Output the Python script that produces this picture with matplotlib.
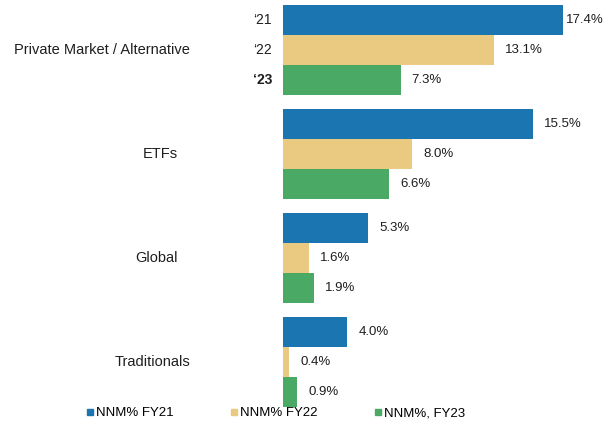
import matplotlib.pyplot as plt
from matplotlib.lines import Line2D

plt.rcParams['font.family'] = ['Liberation Sans', 'DejaVu Sans']

categories = ['Private Market / Alternative', 'ETFs', 'Global', 'Traditionals']
fy21 = [17.4, 15.5, 5.3, 4.0]
fy22 = [13.1, 8.0, 1.6, 0.4]
fy23 = [7.3, 6.6, 1.9, 0.9]
series_names = ['NNM% FY21', 'NNM% FY22', 'NNM%, FY23']
year_tags = ['\u201821', '\u201822', '\u201823']
colors = ['#1a75b0', '#e9ca80', '#4aa964']

W, H = 606, 430
fig = plt.figure(figsize=(W / 100, H / 100), dpi=100)
ax = fig.add_axes([283 / W, 1 - 407 / H, (W - 283) / W, (407 - 5) / H])

pitch = 3.47
for s, vals in enumerate([fy21, fy22, fy23]):
    ys = [g * pitch + s for g in range(len(categories))]
    ax.barh(ys, vals, height=1.0, color=colors[s], edgecolor='none')
    for y, v in zip(ys, vals):
        ax.annotate(f'{v:.1f}%', (v, y), xytext=(2 if v > 17 else 8, 0),
                    textcoords='offset points', va='center', ha='left',
                    fontsize=9.5, color='#1e1e1e')

ax.set_xlim(0, (W - 283) / 16.1)
ax.set_ylim(3 * pitch + 2.5, -0.5)
ax.axis('off')

# category labels on the left
label_right = [190, 178, 178, 190]
for g, (name, xr) in enumerate(zip(categories, label_right)):
    ax.annotate(name, xy=(xr / W, g * pitch + 1), xycoords=('figure fraction', 'data'),
                ha='right', va='center', fontsize=10.5, color='#1e1e1e')

# year tags beside first group
for s, tag in enumerate(year_tags):
    ax.annotate(tag, xy=(272 / W, s), xycoords=('figure fraction', 'data'),
                ha='right', va='center', fontsize=10, color='#1e1e1e',
                fontweight='bold' if s == 2 else 'normal')

handles = [Line2D([], [], marker='s', linestyle='none', markersize=5, color=c)
           for c in colors]
fig.legend(handles, series_names, loc='center', bbox_to_anchor=(275 / W, 1 - 413 / H),
           ncol=3, frameon=False, fontsize=9.5, handletextpad=0.05,
           columnspacing=4.2, handlelength=0.8)

fig.savefig('out.png', dpi=100)
